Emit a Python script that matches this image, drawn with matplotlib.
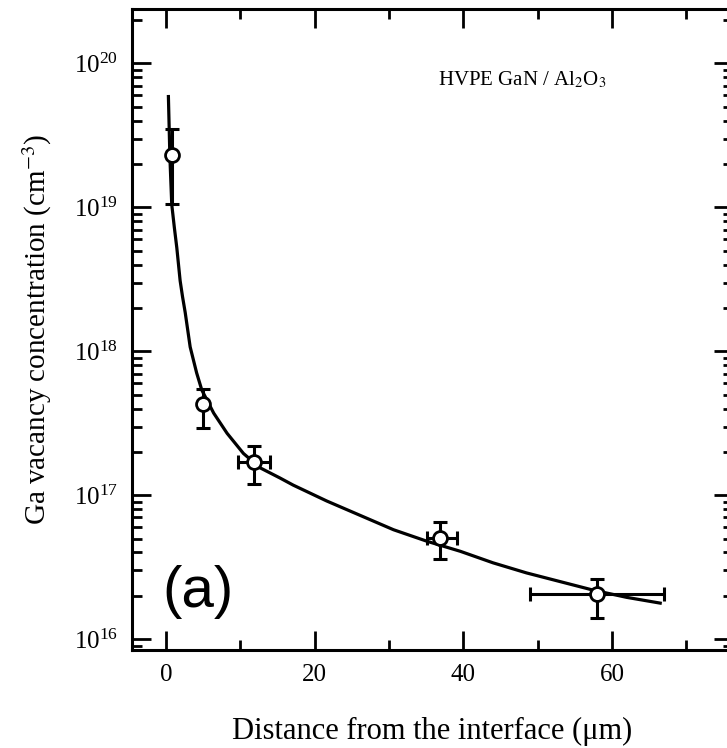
import numpy as np
import matplotlib.pyplot as plt
from matplotlib.ticker import LogLocator, MultipleLocator

plt.rcParams['font.family'] = ['Liberation Serif', 'DejaVu Serif']
plt.rcParams['mathtext.fontset'] = 'stix'

# measured points (distance in um, concentration in cm^-3)
dist = [0.8, 4.9, 11.8, 36.8, 58.0]
conc = [2.3e19, 4.3e17, 1.7e17, 5.05e16, 2.05e16]
conc_hi = [3.5e19, 5.5e17, 2.2e17, 6.5e16, 2.6e16]
conc_lo = [1.05e19, 2.95e17, 1.2e17, 3.6e16, 1.4e16]
dist_lo = [0.8, 4.9, 9.7, 35.1, 49.0]
dist_hi = [0.8, 4.9, 14.0, 39.2, 67.0]

# fitted curve (log10 of concentration)
fit_x = [0.3, 0.5, 0.75, 1.1, 1.43, 1.88, 2.2, 2.56, 3.23, 4.1, 4.8, 6.4, 8.2,
         10.4, 12.65, 15.3, 17.1, 21.6, 26.1, 30.6, 35.1, 39.6, 44.0, 48.5,
         53.0, 57.5, 62.0, 66.5]
fit_log = [19.77, 19.35, 19.02, 18.86, 18.72, 18.49, 18.38, 18.27, 18.03,
           17.85, 17.73, 17.57, 17.43, 17.29, 17.19, 17.12, 17.07, 16.96,
           16.86, 16.76, 16.68, 16.61, 16.53, 16.46, 16.40, 16.34, 16.29,
           16.25]

fig = plt.figure(figsize=(7.27, 7.48), dpi=100)
ax = fig.add_axes([132/727, 98/748, 601/727, 641/748])

ax.plot(fit_x, 10**np.array(fit_log), color='black', lw=2.3, zorder=2,
        solid_joinstyle='round')

x = np.array(dist)
y = np.array(conc)
yerr = [y - np.array(conc_lo), np.array(conc_hi) - y]
ax.errorbar(x, y, yerr=yerr, fmt='none', ecolor='black', elinewidth=2.2,
            capsize=5, capthick=2.2, zorder=3)
# horizontal bars only where a spread was drawn
has_x = np.array(dist_hi) > np.array(dist_lo)
xerr = [x[has_x] - np.array(dist_lo)[has_x], np.array(dist_hi)[has_x] - x[has_x]]
ax.errorbar(x[has_x], y[has_x], xerr=xerr, fmt='none', ecolor='black',
            elinewidth=2.2, capsize=5, capthick=2.2, zorder=3)
ax.plot(x, y, 'o', ms=10, mfc='white', mec='black', mew=2, zorder=4)

ax.set_yscale('log')
ax.set_xlim(-4.6, 76.3)
ax.set_ylim(8.4e15, 2.39e20)
ax.set_xticks([0, 20, 40, 60])
ax.xaxis.set_minor_locator(MultipleLocator(10))
ax.yaxis.set_major_locator(LogLocator(base=10, numticks=10))
ax.yaxis.set_minor_locator(LogLocator(base=10, subs=np.arange(2, 10), numticks=20))

ax.tick_params(which='both', direction='in', top=True, right=True, width=2)
ax.tick_params(which='major', length=14, labelsize=18, pad=10)
ax.tick_params(which='minor', length=7)
for s in ax.spines.values():
    s.set_linewidth(2.2)

ax.set_xlabel('Distance from the interface (\u03bcm)', fontsize=22, labelpad=22)
ax.set_ylabel('Ga vacancy concentration (cm$^{-3}$)', fontsize=21, labelpad=14)

ax.text(0.649, 0.889, 'HVPE GaN / Al$_2$O$_3$', transform=ax.transAxes,
        fontsize=15, ha='center', va='center')
ax.text(0.05, 0.09, '(a)', transform=ax.transAxes, fontsize=42,
        family='Liberation Sans', ha='left', va='center')

fig.savefig('out.png', dpi=100)
